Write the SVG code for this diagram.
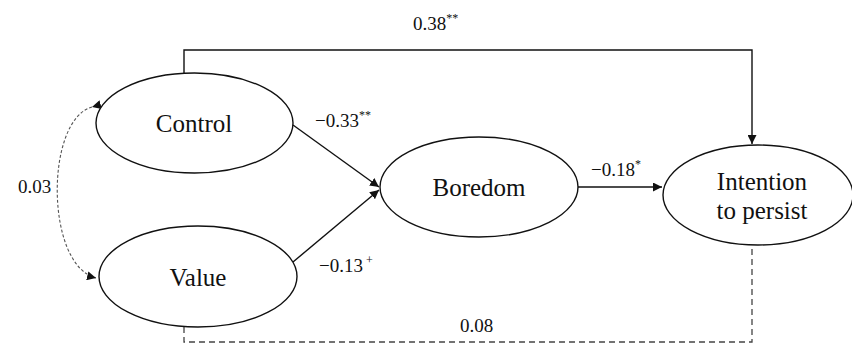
<svg xmlns="http://www.w3.org/2000/svg" width="852" height="343" viewBox="0 0 852 343">
<style>
.node{fill:#fff;stroke:#111;stroke-width:1.4}
.nt{font-family:"Liberation Serif","Times New Roman",serif;font-size:25px;fill:#111;text-anchor:middle}
.lb{font-family:"Liberation Serif","Times New Roman",serif;font-size:19px;fill:#111}
.sup{font-size:12px;fill:#111}
.c{fill:none;stroke:#111;stroke-width:1.4}
.dash{fill:none;stroke:#444;stroke-width:1.3;stroke-dasharray:6 4}
.dot{fill:none;stroke:#555;stroke-width:1.1;stroke-dasharray:3 2}
</style>
<defs>
<marker id="ah" viewBox="0 0 10 10" refX="10" refY="5" markerWidth="9" markerHeight="9" markerUnits="userSpaceOnUse" orient="auto"><path d="M0,0 L10,5 L0,10 z" fill="#111"/></marker>
</defs>
<g id="connectors">
<path class="c" d="M184,74 V50 H752 V144" marker-end="url(#ah)"/>
<path class="c" d="M293,125 L379,187" marker-end="url(#ah)"/>
<path class="c" d="M293,262 L379,190" marker-end="url(#ah)"/>
<path class="c" d="M578,187 L662,187" marker-end="url(#ah)"/>
<path class="dash" d="M184,327 V342 H752 V245"/>
<path class="dot" d="M92,107 C45,120 45,265 96,278" marker-start="url(#ah)" marker-end="url(#ah)"/>
<text class="lb" x="413" y="30">0.38<tspan class="sup" dy="-8">**</tspan></text>
<text class="lb" x="315" y="127">−0.33<tspan class="sup" dy="-8">**</tspan></text>
<text class="lb" x="319" y="272">−0.13<tspan class="sup" dy="-8"> +</tspan></text>
<text class="lb" x="591" y="176">−0.18<tspan class="sup" dy="-8">*</tspan></text>
<text class="lb" x="18" y="193">0.03</text>
<text class="lb" x="460" y="332">0.08</text>
</g>
<g id="control"><ellipse class="node" cx="194.5" cy="123" rx="98.5" ry="50"/><text class="nt" x="194" y="132">Control</text></g>
<g id="value"><ellipse class="node" cx="198" cy="276.5" rx="99" ry="50.5"/><text class="nt" x="198" y="286">Value</text></g>
<g id="boredom"><ellipse class="node" cx="479" cy="187" rx="99" ry="50"/><text class="nt" x="479" y="196">Boredom</text></g>
<g id="intention"><ellipse class="node" cx="758" cy="195" rx="95" ry="50"/><text class="nt" x="762" y="190">Intention</text><text class="nt" x="762" y="219">to persist</text></g>
</svg>
